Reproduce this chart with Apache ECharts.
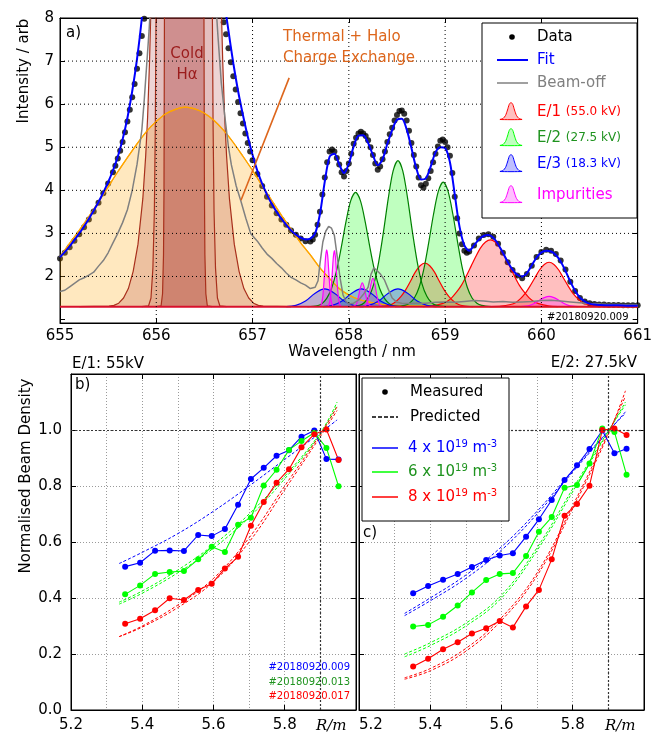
<!DOCTYPE html>
<html>
<head>
<meta charset="utf-8">
<script src="https://cdn.jsdelivr.net/npm/echarts@6.0.0/dist/echarts.min.js"></script>
<style>
html, body { margin: 0; padding: 0; background: #fff; }
#chart { width: 655px; height: 736px; }
</style>
</head>
<body>
<div id="chart"></div>
<script>
// ---------- panel a) : spectrum ----------
const baselineLevel = 1.3;
const waveRange = [655, 661];
const intensityRange = [0.92, 8];

// measured points (wavelength / nm, intensity / arb)
const waveData = [655.00,655.05,655.10,655.15,655.20,655.25,655.30,655.35,655.40,655.45,655.50,655.55,655.575,655.60,655.625,655.65,655.675,655.70,655.725,655.75,655.775,655.80,655.825,655.85,655.875,
  656.70,656.725,656.75,656.775,656.80,656.825,656.85,656.875,656.90,656.925,656.95,656.975,657.00,657.05,657.10,657.15,657.20,657.25,657.30,657.35,657.40,657.45,657.50,657.55,657.60,
  657.625,657.65,657.675,657.70,657.725,657.75,657.775,657.80,657.825,657.85,657.875,657.90,657.925,657.95,657.975,658.00,658.025,658.05,658.075,658.10,658.125,658.15,658.175,658.20,658.225,658.25,658.275,658.30,658.325,658.35,658.375,658.40,658.425,658.45,658.475,658.50,658.525,658.55,658.575,658.60,658.625,658.65,658.675,658.70,658.725,658.75,658.775,658.80,658.825,658.85,658.875,658.90,658.925,658.95,658.975,659.00,659.025,659.05,659.075,659.10,659.125,659.15,659.175,659.20,659.225,
  659.25,659.30,659.35,659.40,659.45,659.50,659.55,659.60,659.65,659.70,659.75,659.80,659.85,659.90,659.95,660.00,660.05,660.10,660.15,660.20,660.25,660.30,660.35,660.40,660.45,660.50,660.55,660.60,660.65,660.70,660.75,660.80,660.85,660.90,660.95,661.00];
const intensityData = [2.42,2.55,2.68,2.83,2.98,3.14,3.32,3.51,3.71,3.93,4.16,4.42,4.57,4.74,4.92,5.12,5.35,5.60,5.87,6.16,6.47,6.82,7.18,7.58,7.98,
  7.90,7.62,7.30,6.97,6.65,6.34,6.05,5.79,5.55,5.32,5.10,4.90,4.70,4.38,4.10,3.85,3.65,3.47,3.32,3.20,3.07,2.97,2.88,2.82,2.81,
  2.86,2.97,3.20,3.50,3.90,4.30,4.65,4.90,4.95,4.90,4.75,4.60,4.42,4.32,4.45,4.62,4.85,5.08,5.22,5.32,5.36,5.32,5.26,5.16,5.00,4.82,4.62,4.48,4.55,4.72,4.90,5.12,5.30,5.45,5.62,5.75,5.84,5.85,5.78,5.62,5.38,5.10,4.82,4.55,4.30,4.12,4.06,4.15,4.28,4.45,4.65,4.85,5.02,5.15,5.18,5.12,5.00,4.80,4.40,3.85,3.35,3.00,2.75,2.60,2.55,
  2.58,2.72,2.88,2.96,2.98,2.92,2.76,2.55,2.33,2.15,2.02,1.96,2.06,2.25,2.45,2.57,2.62,2.60,2.52,2.37,2.16,1.88,1.66,1.50,1.42,1.38,1.36,1.35,1.35,1.34,1.34,1.34,1.33,1.33,1.33,1.33];

const fitCurve = [[655.00,2.45],[655.05,2.57],[655.10,2.70],[655.15,2.85],[655.20,3.00],[655.25,3.16],[655.30,3.34],[655.35,3.53],[655.40,3.73],[655.45,3.95],[655.50,4.19],[655.55,4.46],[655.60,4.78],[655.65,5.18],[655.70,5.68],[655.75,6.30],[655.80,7.05],[655.85,8.00],[655.90,9.30],[656.30,null],
  [656.68,9.10],[656.70,8.50],[656.75,7.70],[656.80,6.95],[656.85,6.30],[656.90,5.75],[656.95,5.25],[657.00,4.82],[657.05,4.45],[657.10,4.15],[657.15,3.90],[657.20,3.68],[657.25,3.50],[657.30,3.34],[657.35,3.20],[657.40,3.07],[657.45,2.97],[657.50,2.90],[657.55,2.86],[657.60,2.88],[657.65,3.00],[657.70,3.45],[657.75,4.20],[657.80,4.78],[657.85,4.85],[657.90,4.60],[657.95,4.40],[658.00,4.62],[658.05,5.02],[658.10,5.27],[658.15,5.28],[658.20,5.10],[658.25,4.82],[658.30,4.58],[658.35,4.72],[658.40,5.08],[658.45,5.40],[658.50,5.64],[658.55,5.66],[658.60,5.42],[658.65,4.98],[658.70,4.52],[658.75,4.25],[658.80,4.28],[658.85,4.55],[658.90,4.88],[658.95,5.00],[659.00,4.98],[659.05,4.65],[659.10,3.90],[659.15,3.15],[659.20,2.72],[659.25,2.60],[659.30,2.72],[659.35,2.86],[659.40,2.94],[659.45,2.96],[659.50,2.90],[659.55,2.75],[659.60,2.55],[659.65,2.34],[659.70,2.16],[659.75,2.04],[659.80,2.00],[659.85,2.08],[659.90,2.26],[659.95,2.44],[660.00,2.56],[660.05,2.60],[660.10,2.58],[660.15,2.50],[660.20,2.35],[660.25,2.13],[660.30,1.88],[660.35,1.67],[660.40,1.51],[660.45,1.42],[660.50,1.37],[660.55,1.35],[660.60,1.34],[660.70,1.33],[660.80,1.33],[660.90,1.32],[661.00,1.32]];

const beamOff = [[655.00,1.65],[655.05,1.68],[655.10,1.76],[655.15,1.84],[655.20,1.92],[655.25,1.97],[655.30,2.03],[655.35,2.10],[655.40,2.24],[655.45,2.37],[655.50,2.55],[655.55,2.78],[655.60,3.00],[655.65,3.25],[655.70,3.55],[655.75,4.00],[655.80,4.60],[655.85,5.40],[655.875,6.10],[655.90,6.90],[655.925,7.70],[655.94,8.30],[656.30,null],
  [656.62,8.30],[656.64,7.60],[656.675,6.50],[656.71,5.75],[656.75,5.00],[656.78,4.59],[656.83,4.10],[656.88,3.74],[656.93,3.35],[656.98,3.00],[657.05,2.82],[657.10,2.66],[657.15,2.52],[657.20,2.42],[657.25,2.30],[657.30,2.20],[657.35,2.08],[657.40,1.98],[657.45,1.92],[657.50,1.85],[657.55,1.80],[657.60,1.72],[657.65,1.75],[657.68,1.90],[657.70,2.30],[657.73,2.80],[657.76,3.05],[657.79,3.16],[657.82,3.12],[657.85,2.95],[657.88,2.45],[657.91,1.95],[657.94,1.57],[657.97,1.42],[658.00,1.36],[658.05,1.38],[658.10,1.45],[658.15,1.58],[658.20,1.75],[658.23,2.05],[658.26,2.20],[658.30,2.12],[658.33,2.05],[658.37,1.92],[658.41,1.70],[658.45,1.50],[658.50,1.40],[658.55,1.38],[658.60,1.37],[658.70,1.38],[658.80,1.38],[658.90,1.40],[659.00,1.41],[659.10,1.40],[659.20,1.42],[659.30,1.44],[659.40,1.43],[659.50,1.41],[659.60,1.42],[659.70,1.40],[659.80,1.41],[659.90,1.42],[660.00,1.44],[660.10,1.45],[660.20,1.43],[660.30,1.41],[660.40,1.39],[660.50,1.37],[660.60,1.36],[660.70,1.35],[660.80,1.35],[660.90,1.34],[661.00,1.34]];

// thermal + halo charge exchange
const thermal = [[655.00,2.46],[655.10,2.77],[655.20,3.07],[655.30,3.39],[655.40,3.73],[655.50,4.08],[655.60,4.43],[655.70,4.76],[655.80,5.08],[655.90,5.37],[656.00,5.60],[656.10,5.78],[656.20,5.88],[656.30,5.93],[656.40,5.89],[656.50,5.79],[656.60,5.62],[656.70,5.39],[656.80,5.11],[656.90,4.79],[657.00,4.46],[657.10,4.11],[657.20,3.76],[657.30,3.42],[657.40,3.10],[657.50,2.78],[657.60,2.50],[657.70,2.20],[657.80,1.95],[657.90,1.72],[658.00,1.57],[658.10,1.47],[658.20,1.41],[658.30,1.37],[658.40,1.34],[658.60,1.32],[658.80,1.31],[659.00,1.30],[661.00,1.30]];

// cold H-alpha components (run off the top of the axes)
const coldOuter = [[655.20,1.30],[655.51,1.31],[655.56,1.33],[655.61,1.38],[655.66,1.50],[655.71,1.72],[655.76,2.12],[655.81,2.75],[655.86,3.80],[655.89,4.80],[655.91,5.70],[655.93,7.00],[655.945,8.30],[656.31,40],[656.675,8.30],[656.69,7.00],[656.71,5.70],[656.73,4.80],[656.76,3.80],[656.81,2.75],[656.86,2.12],[656.91,1.72],[656.96,1.50],[657.01,1.38],[657.06,1.33],[657.11,1.31],[657.40,1.30]];
const coldMid = [[655.85,1.30],[655.92,1.32],[655.945,1.50],[655.965,2.20],[655.98,3.50],[655.99,5.50],[655.998,8.30],[656.29,60],[656.582,8.30],[656.59,5.50],[656.60,3.50],[656.615,2.20],[656.635,1.50],[656.66,1.32],[656.73,1.30]];
const coldInner = [[656.00,1.30],[656.05,1.32],[656.065,1.60],[656.075,2.50],[656.08,4.00],[656.085,8.30],[656.29,60],[656.495,8.30],[656.50,4.00],[656.505,2.50],[656.515,1.60],[656.53,1.32],[656.58,1.30]];

// E/1 (55.0 kV) components
const e1a = [[658.29,1.30],[658.39,1.32],[658.44,1.35],[658.49,1.42],[658.54,1.53],[658.59,1.69],[658.64,1.89],[658.69,2.10],[658.74,2.25],[658.79,2.31],[658.84,2.25],[658.89,2.10],[658.94,1.89],[658.99,1.69],[659.04,1.53],[659.09,1.42],[659.14,1.35],[659.19,1.32],[659.29,1.30]];
const e1b = [[658.77,1.30],[658.87,1.32],[658.92,1.34],[658.97,1.37],[659.02,1.42],[659.07,1.51],[659.12,1.64],[659.17,1.80],[659.22,2.01],[659.27,2.24],[659.32,2.47],[659.37,2.67],[659.42,2.80],[659.47,2.85],[659.52,2.80],[659.57,2.67],[659.62,2.47],[659.67,2.24],[659.72,2.01],[659.77,1.80],[659.82,1.64],[659.87,1.51],[659.92,1.42],[659.97,1.37],[660.02,1.34],[660.07,1.32],[660.17,1.30]];
const e1c = [[659.48,1.30],[659.58,1.31],[659.68,1.35],[659.73,1.39],[659.78,1.48],[659.83,1.60],[659.88,1.77],[659.93,1.96],[659.98,2.15],[660.03,2.28],[660.08,2.33],[660.13,2.28],[660.18,2.15],[660.23,1.96],[660.28,1.77],[660.33,1.60],[660.38,1.48],[660.43,1.39],[660.48,1.35],[660.58,1.31],[660.68,1.30]];
// E/2 (27.5 kV) components
const e2a = [[657.57,1.30],[657.67,1.32],[657.72,1.37],[657.77,1.49],[657.82,1.72],[657.87,2.11],[657.92,2.66],[657.97,3.27],[658.02,3.76],[658.07,3.95],[658.12,3.76],[658.17,3.27],[658.22,2.66],[658.27,2.11],[658.32,1.72],[658.37,1.49],[658.42,1.37],[658.47,1.32],[658.57,1.30]];
const e2b = [[658.01,1.30],[658.11,1.33],[658.16,1.39],[658.21,1.54],[658.26,1.83],[658.31,2.34],[658.36,3.04],[658.41,3.82],[658.46,4.45],[658.51,4.69],[658.56,4.45],[658.61,3.82],[658.66,3.04],[658.71,2.34],[658.76,1.83],[658.81,1.54],[658.86,1.39],[658.91,1.33],[659.01,1.30]];
const e2c = [[658.48,1.30],[658.58,1.33],[658.63,1.38],[658.68,1.50],[658.73,1.75],[658.78,2.18],[658.83,2.79],[658.88,3.45],[658.93,3.98],[658.98,4.19],[659.03,3.98],[659.08,3.45],[659.13,2.79],[659.18,2.18],[659.23,1.75],[659.28,1.50],[659.33,1.38],[659.38,1.33],[659.48,1.30]];
// E/3 (18.3 kV) components
const e3a = [[657.35,1.30],[657.45,1.33],[657.55,1.43],[657.65,1.61],[657.75,1.71],[657.85,1.61],[657.95,1.43],[658.05,1.33],[658.15,1.30]];
const e3b = [[657.73,1.30],[657.83,1.33],[657.93,1.43],[658.03,1.61],[658.13,1.71],[658.23,1.61],[658.33,1.43],[658.43,1.33],[658.53,1.30]];
const e3c = [[658.11,1.30],[658.21,1.33],[658.31,1.43],[658.41,1.61],[658.51,1.71],[658.61,1.61],[658.71,1.43],[658.81,1.33],[658.91,1.30]];
// impurity lines
const imp1 = [[657.70,1.31],[657.71,1.33],[657.72,1.40],[657.73,1.55],[657.74,1.82],[657.75,2.17],[657.76,2.49],[657.77,2.62],[657.78,2.49],[657.79,2.17],[657.80,1.82],[657.81,1.55],[657.82,1.40],[657.83,1.33],[657.84,1.31]];
const imp2 = [[657.78,1.31],[657.79,1.33],[657.80,1.40],[657.81,1.55],[657.82,1.81],[657.83,2.16],[657.84,2.47],[657.85,2.60],[657.86,2.47],[657.87,2.16],[657.88,1.81],[657.89,1.55],[657.90,1.40],[657.91,1.33],[657.92,1.31]];
const imp3 = [[658.04,1.30],[658.06,1.32],[658.08,1.37],[658.10,1.53],[658.12,1.74],[658.14,1.85],[658.16,1.74],[658.18,1.53],[658.20,1.37],[658.22,1.32],[658.24,1.30]];
const imp4 = [[658.15,1.30],[658.17,1.32],[658.19,1.39],[658.21,1.57],[658.23,1.83],[658.25,1.96],[658.27,1.83],[658.29,1.57],[658.31,1.39],[658.33,1.32],[658.35,1.30]];
const imp5 = [[659.78,1.30],[659.83,1.31],[659.88,1.33],[659.93,1.38],[659.98,1.45],[660.03,1.51],[660.08,1.54],[660.13,1.51],[660.18,1.45],[660.23,1.38],[660.28,1.33],[660.33,1.31],[660.38,1.30]];

const waveTicks = [656, 657, 658, 659, 660];
const intensityTicks = [2, 3, 4, 5, 6, 7];
const arrowLine = [[657.38, 6.61], [656.88, 3.77]];

// ---------- panels b) and c) : normalised beam density ----------
const radius = [5.352,5.394,5.436,5.477,5.517,5.557,5.595,5.632,5.669,5.705,5.741,5.777,5.812,5.847,5.883,5.917,5.951];
const b4 = [0.512,0.526,0.569,0.570,0.568,0.625,0.621,0.646,0.733,0.825,0.865,0.908,0.928,0.976,0.998,0.896,0.895];
const b6 = [0.413,0.445,0.486,0.493,0.496,0.538,0.583,0.564,0.662,0.687,0.802,0.858,0.929,0.961,0.990,0.936,0.799];
const b8 = [0.308,0.326,0.356,0.399,0.393,0.429,0.451,0.505,0.547,0.658,0.743,0.812,0.860,0.938,0.985,1.002,0.893];
const c4 = [0.417,0.443,0.465,0.486,0.511,0.536,0.552,0.560,0.619,0.681,0.750,0.821,0.874,0.932,0.998,0.917,0.933];
const c6 = [0.298,0.304,0.333,0.373,0.420,0.464,0.486,0.489,0.550,0.637,0.689,0.794,0.804,0.880,1.005,0.993,0.840];
const c8 = [0.155,0.183,0.217,0.242,0.273,0.292,0.318,0.295,0.370,0.429,0.538,0.694,0.736,0.801,1.000,1.005,0.982];

const predRadiusB = [5.335,5.4,5.5,5.6,5.7,5.8,5.9,5.947];
const pb4 = [0.523,0.563,0.630,0.710,0.800,0.895,0.990,1.036];
const pb6 = [0.385,0.425,0.500,0.590,0.700,0.835,0.990,1.100];
const pb6b = [0.378,0.417,0.490,0.578,0.688,0.826,0.985,1.088];
const pb8 = [0.262,0.300,0.375,0.470,0.615,0.800,0.985,1.083];
const pb8b = [0.262,0.296,0.366,0.458,0.600,0.787,0.977,1.070];
const predRadiusC = [5.328,5.4,5.5,5.6,5.7,5.8,5.9,5.948];
const pc4 = [0.337,0.390,0.470,0.571,0.700,0.850,0.995,1.065];
const pc4b = [0.345,0.400,0.482,0.583,0.710,0.855,0.997,1.060];
const pc6 = [0.190,0.230,0.300,0.400,0.570,0.780,0.995,1.100];
const pc6b = [0.200,0.240,0.310,0.410,0.580,0.790,0.997,1.090];
const pc8 = [0.110,0.140,0.210,0.320,0.480,0.720,0.985,1.140];
const pc8b = [0.115,0.148,0.220,0.330,0.490,0.730,0.990,1.120];
const refRadius = 5.9;
const refDensity = 1.0;

const FONT = 'DejaVu Sans';
const BLUE = '#0000ff', LIME = '#00ff00', RED = '#ff0000', GREEN_TXT = '#1f931f';

function pairs(xs, ys) { return xs.map((x, i) => [x, ys[i]]); }

// filled component on top panel
function comp(name, data, line, fill, smooth) {
    return {
        name: name, type: 'line', data: data, xAxisIndex: 0, yAxisIndex: 0,
        showSymbol: false, symbol: 'none', smooth: smooth, silent: true,
        lineStyle: { color: line, width: 1.2 },
        areaStyle: { color: fill, opacity: 1, origin: baselineLevel }
    };
}

// axis index: panel b) uses axes 2, panel c) uses axes 4
function measured(data, color, idx) {
    return {
        type: 'line', data: data, xAxisIndex: idx, yAxisIndex: idx, silent: true,
        symbol: 'circle', symbolSize: 6, showSymbol: true,
        lineStyle: { color: color, width: 1.1 }, itemStyle: { color: color }
    };
}

function predicted(data, color, idx) {
    return {
        type: 'line', data: data, xAxisIndex: idx, yAxisIndex: idx, silent: true,
        showSymbol: false, symbol: 'none', smooth: 0.4,
        lineStyle: { color: color, width: 1, type: [3, 2] }
    };
}

const softDot = { color: '#9a9a9a', width: 1, type: [1, 2] };
const darkDash = { color: '#333', width: 1.2, type: [2, 2] };

// dotted grid of panel a), drawn above the fills like the original (segments split by gaps)
const topGridPath = [];
waveTicks.forEach(v => { topGridPath.push([v, intensityRange[0]], [v, intensityRange[1]], [v, null]); });
intensityTicks.forEach(v => { topGridPath.push([waveRange[0], v], [waveRange[1], v], [waveRange[1], null]); });

function xAxisOf(grid, min, max, interval, pos, labels, extra) {
    return Object.assign({
        type: 'value', gridIndex: grid, min: min, max: max, interval: interval, position: pos,
        axisLine: { show: true, onZero: false, lineStyle: { color: '#000', width: 1 } },
        axisTick: { show: true, inside: true, length: 5, lineStyle: { color: '#000' } },
        axisLabel: { show: labels, color: '#000', fontSize: 15, fontFamily: FONT, margin: 7 },
        splitLine: { show: false }
    }, extra || {});
}
function yAxisOf(grid, min, max, pos, labels, extra) {
    return Object.assign({
        type: 'value', gridIndex: grid, min: min, max: max, position: pos,
        axisLine: { show: true, onZero: false, lineStyle: { color: '#000', width: 1 } },
        axisTick: { show: true, inside: true, length: 5, lineStyle: { color: '#000' } },
        axisLabel: { show: labels, color: '#000', fontSize: 15, fontFamily: FONT, margin: 6 },
        splitLine: { show: false }
    }, extra || {});
}

const rLabel = v => (Math.abs(v - 6) < 1e-6 || Math.abs(v * 10 - Math.round(v * 10)) > 1e-6) ? '' : v.toFixed(1);
const dLabel = v => v > 1.1 ? '' : v.toFixed(1);
const bottomX = (g, pos, labels, alignMin) => xAxisOf(g, 5.2, 6.0, 0.2, pos, labels, {
    axisLabel: { show: labels, color: '#000', fontSize: 15, fontFamily: FONT, margin: 8, formatter: rLabel, alignMinLabel: alignMin },
    splitLine: { show: pos === 'bottom', lineStyle: softDot },
    minorTick: { show: false, splitNumber: 2 },
    minorSplitLine: { show: pos === 'bottom', lineStyle: softDot }
});
const bottomY = (g, pos, labels) => yAxisOf(g, 0, 1.2, pos, labels, {
    interval: 0.2,
    axisLabel: { show: labels, color: '#000', fontSize: 15, fontFamily: FONT, margin: 9, formatter: dLabel },
    splitLine: { show: pos === 'left', lineStyle: softDot }
});
const topY = (pos, labels) => yAxisOf(0, intensityRange[0], intensityRange[1], pos, labels, {
    splitNumber: 7, minInterval: 1, maxInterval: 1,
    axisLabel: { show: labels, color: '#000', fontSize: 15, fontFamily: FONT, margin: 6,
        formatter: v => v >= 1.5 ? String(Math.round(v)) : '' }
});

function bell(cx, cy, stroke, fill) {
    const p = [[-11,8.5],[-8,7.5],[-5.5,4.5],[-3.5,-1],[-1.8,-6.5],[0,-8.5],[1.8,-6.5],[3.5,-1],[5.5,4.5],[8,7.5],[11,8.5]];
    return { type: 'polygon', z: 101, shape: { points: p.map(q => [cx + q[0], cy + q[1]]), smooth: 0.25 },
        style: { fill: fill, stroke: stroke, lineWidth: 1 } };
}
function txt(x, y, text, opts) {
    return { type: 'text', x: x, y: y, z: 101, silent: true,
        style: Object.assign({ text: text, fontFamily: FONT, fontSize: 15, fill: '#000',
            textAlign: 'left', textVerticalAlign: 'middle', align: 'left', verticalAlign: 'middle' }, opts || {}) };
}
const supRich = c => ({
    n: { fontSize: 15, fontFamily: FONT, fill: c, color: c, lineHeight: 18 },
    s: { fontSize: 10, fontFamily: FONT, fill: c, color: c, verticalAlign: 'top', lineHeight: 10 }
});
const kvRich = c => ({
    a: { fontSize: 15, fontFamily: FONT, fill: c, color: c },
    b: { fontSize: 12, fontFamily: FONT, fill: c, color: c }
});

const chart = echarts.init(document.getElementById('chart'), null, { renderer: 'canvas' });

const option = {
    animation: false,
    backgroundColor: '#fff',
    textStyle: { fontFamily: FONT },
    grid: [
        { left: 60, top: 18, width: 584, height: 305, show: true, borderColor: '#000', borderWidth: 1, backgroundColor: 'transparent' },
        { left: 71, top: 374, width: 285, height: 336, show: true, borderColor: '#000', borderWidth: 1 },
        { left: 359, top: 374, width: 285, height: 336, show: true, borderColor: '#000', borderWidth: 1 }
    ],
    xAxis: [
        xAxisOf(0, waveRange[0], waveRange[1], 1, 'bottom', true, { axisLabel: { show: true, color: '#000', fontSize: 15, fontFamily: FONT, margin: 6 } }),
        xAxisOf(0, waveRange[0], waveRange[1], 1, 'top', false),
        bottomX(1, 'bottom', true, 'center'),
        bottomX(1, 'top', false, 'center'),
        bottomX(2, 'bottom', true, 'left'),
        bottomX(2, 'top', false, 'center')
    ],
    yAxis: [
        topY('left', true),
        topY('right', false),
        bottomY(1, 'left', true),
        bottomY(1, 'right', false),
        bottomY(2, 'left', false),
        bottomY(2, 'right', false)
    ],
    series: [
        comp('thermal', thermal, '#ffa500', 'rgba(255,165,0,0.25)', 0.3),
        comp('coldOuter', coldOuter, '#a8301c', 'rgba(165,42,42,0.20)', false),
        comp('coldMid', coldMid, '#a8301c', 'rgba(165,42,42,0.12)', false),
        comp('coldInner', coldInner, '#a8301c', 'rgba(165,42,42,0.32)', false),
        {
            name: 'thermalEdge', type: 'line', silent: true, showSymbol: false, symbol: 'none', smooth: 0.3,
            data: thermal, lineStyle: { color: '#ffa500', width: 1.2 }
        },
        comp('E1', e1a, RED, 'rgba(255,0,0,0.25)', 0.3),
        comp('E1', e1b, RED, 'rgba(255,0,0,0.25)', 0.3),
        comp('E1', e1c, RED, 'rgba(255,0,0,0.25)', 0.3),
        comp('E2', e2a, '#008000', 'rgba(0,255,0,0.25)', 0.3),
        comp('E2', e2b, '#008000', 'rgba(0,255,0,0.25)', 0.3),
        comp('E2', e2c, '#008000', 'rgba(0,255,0,0.25)', 0.3),
        comp('E3', e3a, BLUE, 'rgba(0,0,255,0.25)', 0.4),
        comp('E3', e3b, BLUE, 'rgba(0,0,255,0.25)', 0.4),
        comp('E3', e3c, BLUE, 'rgba(0,0,255,0.25)', 0.4),
        comp('Imp', imp1, '#ff00ff', 'rgba(255,0,255,0.25)', 0.3),
        comp('Imp', imp2, '#ff00ff', 'rgba(255,0,255,0.25)', 0.3),
        comp('Imp', imp3, '#ff00ff', 'rgba(255,0,255,0.25)', 0.3),
        comp('Imp', imp4, '#ff00ff', 'rgba(255,0,255,0.25)', 0.3),
        comp('Imp', imp5, '#ff00ff', 'rgba(255,0,255,0.25)', 0.3),
        {
            name: 'baseline', type: 'line', silent: true, showSymbol: false, symbol: 'none',
            data: [[waveRange[0], baselineLevel], [waveRange[1], baselineLevel]],
            lineStyle: { color: '#d8102c', width: 2 }
        },
        {
            name: 'Beam-off', type: 'line', silent: true, showSymbol: false, symbol: 'none', data: beamOff,
            lineStyle: { color: '#808080', width: 1.5 }
        },
        {
            name: 'Fit', type: 'line', silent: true, showSymbol: false, symbol: 'none', smooth: 0.3, data: fitCurve,
            lineStyle: { color: BLUE, width: 2 }
        },
        {
            name: 'Data', type: 'scatter', silent: true, symbolSize: 6, data: pairs(waveData, intensityData),
            itemStyle: { color: '#000' },
            markLine: {
                silent: true, symbol: ['none', 'none'], label: { show: false }, animation: false,
                data: [[{ coord: arrowLine[0], lineStyle: { color: '#dd661c', width: 1.6, type: 'solid' } },
                        { coord: arrowLine[1] }]]
            }
        },
        {
            name: 'grid', type: 'line', silent: true, showSymbol: false, symbol: 'none', z: 4,
            connectNulls: false, clip: false, data: topGridPath,
            lineStyle: { color: '#000', width: 1, type: [1, 3] }
        },
        // panel b)
        predicted(pairs(predRadiusB, pb4), BLUE, 2),
        predicted(pairs(predRadiusB, pb6), LIME, 2),
        predicted(pairs(predRadiusB, pb6b), LIME, 2),
        predicted(pairs(predRadiusB, pb8), RED, 2),
        predicted(pairs(predRadiusB, pb8b), RED, 2),
        Object.assign(measured(pairs(radius, b4), BLUE, 2), {
            markLine: { silent: true, symbol: ['none', 'none'], label: { show: false }, lineStyle: darkDash,
                data: [{ xAxis: refRadius }, { yAxis: refDensity }] }
        }),
        measured(pairs(radius, b6), LIME, 2),
        measured(pairs(radius, b8), RED, 2),
        // panel c)
        predicted(pairs(predRadiusC, pc4), BLUE, 4),
        predicted(pairs(predRadiusC, pc4b), BLUE, 4),
        predicted(pairs(predRadiusC, pc6), LIME, 4),
        predicted(pairs(predRadiusC, pc6b), LIME, 4),
        predicted(pairs(predRadiusC, pc8), RED, 4),
        predicted(pairs(predRadiusC, pc8b), RED, 4),
        Object.assign(measured(pairs(radius, c4), BLUE, 4), {
            markLine: { silent: true, symbol: ['none', 'none'], label: { show: false }, lineStyle: darkDash,
                data: [{ xAxis: refRadius }, { yAxis: refDensity }] }
        }),
        measured(pairs(radius, c6), LIME, 4),
        measured(pairs(radius, c8), RED, 4)
    ],
    graphic: [
        // axis titles and annotations
        txt(24, 71, 'Intensity / arb', { textAlign: 'center', align: 'center' }),
        txt(352, 352, 'Wavelength / nm', { textAlign: 'center', align: 'center' }),
        txt(26, 476, 'Normalised Beam Density', { textAlign: 'center', align: 'center' }),
        txt(66, 33, 'a)'),
        txt(75, 385, 'b)'),
        txt(363, 533, 'c)'),
        txt(187, 54, 'Cold', { textAlign: 'center', align: 'center', fill: '#9b1c1c' }),
        txt(187, 75, 'Hα', { textAlign: 'center', align: 'center', fill: '#9b1c1c' }),
        txt(283, 37, 'Thermal + Halo', { fill: '#dd661c' }),
        txt(283, 58, 'Charge Exchange', { fill: '#dd661c' }),
        txt(547, 317, '#20180920.009', { fontSize: 10 }),
        txt(72, 364, 'E/1: 55kV'),
        txt(637, 363, 'E/2: 27.5kV', { textAlign: 'right', align: 'right' }),
        txt(350, 667, '#20180920.009', { fontSize: 10, textAlign: 'right', align: 'right', fill: BLUE }),
        txt(350, 682, '#20180920.013', { fontSize: 10, textAlign: 'right', align: 'right', fill: GREEN_TXT }),
        txt(350, 696, '#20180920.017', { fontSize: 10, textAlign: 'right', align: 'right', fill: RED }),
        txt(316, 726, 'R/m', { fontFamily: 'DejaVu Serif', fontStyle: 'italic' }),
        txt(605, 726, 'R/m', { fontFamily: 'DejaVu Serif', fontStyle: 'italic' }),

        // legend of panel a)
        { type: 'rect', z: 100, shape: { x: 482, y: 23, width: 155, height: 195 }, style: { fill: '#fff', stroke: '#000', lineWidth: 1 } },
        { type: 'circle', z: 101, shape: { cx: 512, cy: 37, r: 2.8 }, style: { fill: '#000' } },
        txt(537, 37, 'Data'),
        { type: 'line', z: 101, shape: { x1: 497, y1: 60, x2: 528, y2: 60 }, style: { stroke: BLUE, lineWidth: 2 } },
        txt(537, 60, 'Fit', { fill: BLUE }),
        { type: 'line', z: 101, shape: { x1: 497, y1: 83, x2: 528, y2: 83 }, style: { stroke: '#808080', lineWidth: 1.5 } },
        txt(537, 83, 'Beam-off', { fill: '#808080' }),
        bell(511, 111, RED, 'rgba(255,0,0,0.25)'),
        txt(537, 112, '{a|E/1} {b|(55.0 kV)}', { fill: RED, rich: kvRich(RED) }),
        bell(511, 137, LIME, 'rgba(0,255,0,0.25)'),
        txt(537, 138, '{a|E/2} {b|(27.5 kV)}', { fill: GREEN_TXT, rich: kvRich(GREEN_TXT) }),
        bell(511, 163, BLUE, 'rgba(0,0,255,0.25)'),
        txt(537, 164, '{a|E/3} {b|(18.3 kV)}', { fill: BLUE, rich: kvRich(BLUE) }),
        bell(511, 194, '#ff00ff', 'rgba(255,0,255,0.25)'),
        txt(537, 195, 'Impurities', { fill: '#ff00ff' }),

        // legend of panel c)
        { type: 'rect', z: 100, shape: { x: 362, y: 378, width: 147, height: 143 }, style: { fill: '#fff', stroke: '#000', lineWidth: 1 } },
        { type: 'circle', z: 101, shape: { cx: 385, cy: 392, r: 2.8 }, style: { fill: '#000' } },
        txt(410, 392, 'Measured'),
        { type: 'line', z: 101, shape: { x1: 372, y1: 417, x2: 398, y2: 417 }, style: { stroke: '#000', lineWidth: 1.3, lineDash: [4, 2] } },
        txt(410, 417, 'Predicted'),
        { type: 'line', z: 101, shape: { x1: 372, y1: 448, x2: 398, y2: 448 }, style: { stroke: BLUE, lineWidth: 1.5 } },
        txt(408, 448, '{n|4 x 10}{s|19}{n| m}{s|-3}', { fill: BLUE, rich: supRich(BLUE) }),
        { type: 'line', z: 101, shape: { x1: 372, y1: 472, x2: 398, y2: 472 }, style: { stroke: LIME, lineWidth: 1.5 } },
        txt(408, 472, '{n|6 x 10}{s|19}{n| m}{s|-3}', { fill: GREEN_TXT, rich: supRich(GREEN_TXT) }),
        { type: 'line', z: 101, shape: { x1: 372, y1: 497, x2: 398, y2: 497 }, style: { stroke: RED, lineWidth: 1.5 } },
        txt(408, 497, '{n|8 x 10}{s|19}{n| m}{s|-3}', { fill: RED, rich: supRich(RED) })
    ]
};

// rotate the two vertical axis titles
option.graphic[0].rotation = Math.PI / 2;
option.graphic[2].rotation = Math.PI / 2;

chart.setOption(option);
</script>
</body>
</html>
